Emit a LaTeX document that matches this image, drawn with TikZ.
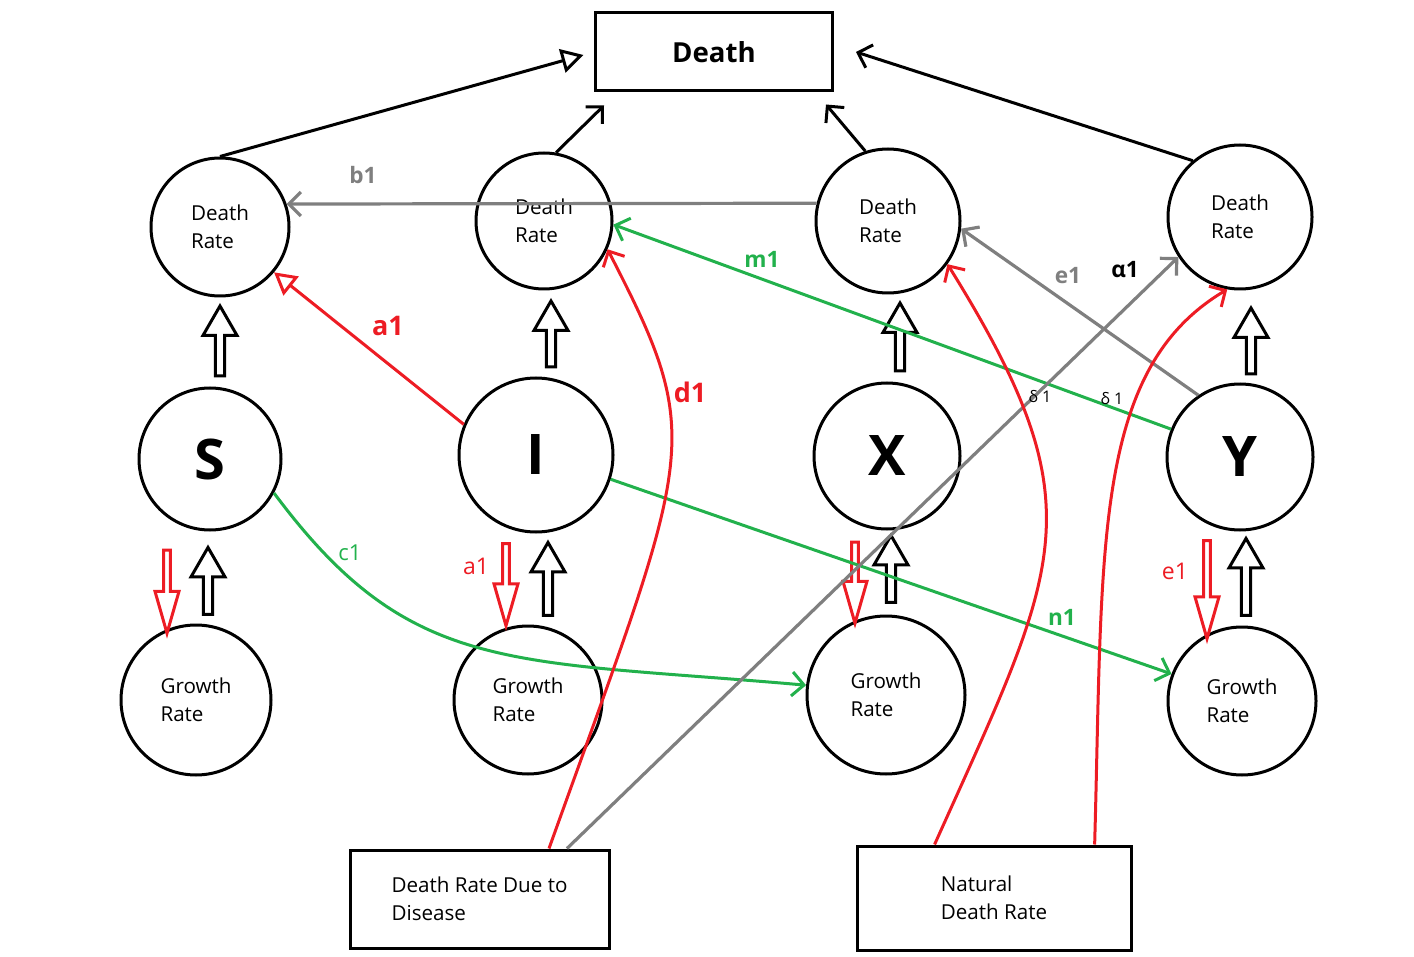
\documentclass[tikz,border=0pt]{standalone}
\usepackage{fontspec}
\setmainfont{Open Sans}
\usepackage{tikz}
\usetikzlibrary{shapes.arrows, arrows.meta}
\definecolor{pred}{HTML}{ED1C24}
\definecolor{pgreen}{HTML}{22B14C}
\definecolor{pgrey}{HTML}{7F7F7F}
\tikzset{
  rate/.style      = {circle, draw=black, line width=1.5pt, align=left, inner sep=0pt,
                      font=\fontsize{10.3}{14}\selectfont},
  comp/.style      = {circle, draw=black, line width=1.5pt, inner sep=0pt,
                      font=\fontsize{28}{30}\selectfont\bfseries},
  source/.style    = {rectangle, draw=black, line width=1.5pt, align=left,
                      font=\fontsize{10.3}{14}\selectfont},
  upblock/.style   = {single arrow, draw=black, line width=1.5pt, shape border rotate=90,
                      inner xsep=0pt, inner ysep=4.5pt, single arrow head extend=2pt,
                      single arrow tip angle=60, minimum width=17pt},
  downblock/.style = {single arrow, draw=pred, line width=1.5pt, shape border rotate=270,
                      inner xsep=0pt, inner ysep=3pt, single arrow head extend=2pt,
                      single arrow tip angle=32, minimum width=12pt},
  blackline/.style = {line width=1.5pt, black},
  greyline/.style  = {line width=1.6pt, pgrey},
  redline/.style   = {line width=1.5pt, pred},
  greenline/.style = {line width=1.5pt, pgreen},
  barb/.style      = {-{Straight Barb[length=6pt,width=12pt]}},
  hollow/.style    = {-{Triangle[open,length=11pt,width=12pt]}},
  lbl/.style       = {font=\fontsize{11.3}{12}\selectfont\bfseries, inner sep=0pt},
}

\begin{document}
\begin{tikzpicture}[x=0.5pt, y=-0.5pt]
  \useasboundingbox (0,0) rectangle (1414,957);

  % Top box
  \node[source, minimum width=118.5pt, minimum height=39pt,
        font=\fontsize{13.8}{15}\selectfont\bfseries] (death) at (714,52) {Death};

  % Death rates
  \node[rate, minimum size=69pt] (dr1) at (220,227) {Death\\Rate};
  \node[rate, minimum size=68pt] (dr2) at (544,221) {Death\\Rate};
  \node[rate, minimum size=72pt] (dr3) at (888,221) {Death\\Rate};
  \node[rate, minimum size=72pt] (dr4) at (1240,217) {Death\\Rate};

  % Compartments
  \node[comp, minimum size=71pt] (s) at (210,459) {S};
  \node[comp, minimum size=77pt] (i) at (536,455) {I};
  \node[comp, minimum size=73pt] (x) at (887,456) {X};
  \node[comp, minimum size=73pt] (y) at (1240,457) {Y};

  % Growth rates
  \node[rate, minimum size=75pt] (g1) at (196,700) {Growth\\Rate};
  \node[rate, minimum size=74pt] (g2) at (528,700) {Growth\\Rate};
  \node[rate, minimum size=79pt] (g3) at (886,695) {Growth\\Rate};
  \node[rate, minimum size=74pt] (g4) at (1242,701) {Growth\\Rate};

  % Bottom boxes
  \node[source, minimum width=129.5pt, minimum height=49pt] (disease) at (479.5,899)
       {Death Rate Due to\\Disease};
  \node[source, minimum width=137pt, minimum height=52pt] (natural) at (994,898)
       {Natural\\Death Rate};

  % Block arrows up to the death rates
  \node[upblock, minimum height=35pt] (us) at (220,345) {};
  \node[upblock, minimum height=33pt] (ui) at (551,338) {};
  \node[upblock, minimum height=34pt] (ux) at (900,341) {};
  \node[upblock, minimum height=33pt] (uy) at (1251,345) {};

  % Block arrows to and from the growth rates
  \node[downblock, minimum height=41.5pt] (ds) at (167,586) {};
  \node[upblock,   minimum height=33.5pt] (gs) at (208,585) {};
  \node[downblock, minimum height=41pt]   (di) at (506,579) {};
  \node[upblock,   minimum height=36.5pt] (gi) at (548,583) {};
  \node[downblock, minimum height=40.5pt] (dx) at (855,577) {};
  \node[upblock,   minimum height=33.5pt] (gx) at (891,573) {};
  \node[downblock, minimum height=49pt]   (dy) at (1207,584) {};
  \node[upblock,   minimum height=38.5pt] (gy) at (1246,581) {};

  % Death rates into Death
  \draw[blackline, hollow] (dr1.north) -- (death.west) [shorten >=5.5pt];
  \draw[blackline, barb] (dr2.80) -- ([xshift=5pt,yshift=-6.5pt]death.south west);
  \draw[blackline, barb] (dr3.108) -- ([xshift=-4pt,yshift=-6pt]death.south east);
  \draw[blackline, barb] (dr4.130) -- ([xshift=11pt]death.east);

  % Cross links
  \draw[greyline, barb] (dr3.166) -- (dr1.19);
  \draw[redline, hollow] (i.157) -- (dr1.-40);
  \draw[greenline, barb] (y.158) -- (dr2.-3);
  \draw[greyline, barb] (y.124) -- (dr3.-6);
  \draw[greenline, barb] (s.-28) .. controls (410,676) and (508,659) .. (g3.173);
  \draw[greenline, barb] (i.-18) -- (g4.159);

  % From the bottom boxes
  \draw[greyline, barb] (disease.30) -- (dr4.213);
  \draw[redline, barb] (disease.36) .. controls (693,447) and (707,442) .. (dr2.-24);
  \draw[redline, barb] (natural.138) .. controls (1061,563) and (1099,508) .. (dr3.-36);
  \draw[redline, barb] (natural.28) .. controls (1103,547) and (1092,370) .. (dr4.-100);

  % Labels
  \node[lbl, text=pgrey] (lb1) at (363,175) {b1};
  \node[lbl, text=pred, font=\fontsize{13.5}{14}\selectfont\bfseries] (la1) at (388,326) {a1};
  \node[lbl, text=pgreen] (lm1) at (762,259) {m1};
  \node[lbl, text=pred, font=\fontsize{13.5}{14}\selectfont\bfseries] (ld1) at (690,392) {d1};
  \node[lbl, text=pgrey] (le1) at (1068,276) {e1};
  \node[lbl] (lal1) at (1125,270) {α1};
  \node[font=\fontsize{8}{9}\selectfont, inner sep=0pt] (ld2) at (1040,397) {δ 1};
  \node[font=\fontsize{8}{9}\selectfont, inner sep=0pt] (ld3) at (1112,399) {δ 1};
  \node[lbl, text=pgreen, font=\fontsize{11}{12}\selectfont] (lc1) at (350,553) {c1};
  \node[lbl, text=pgreen] (ln1) at (1062,617) {n1};
  \node[text=pred, font=\fontsize{11.5}{12}\selectfont, inner sep=0pt] (la2) at (476,566) {a1};
  \node[text=pred, font=\fontsize{11.5}{12}\selectfont, inner sep=0pt] (le2) at (1175,571) {e1};

\end{tikzpicture}
\end{document}
